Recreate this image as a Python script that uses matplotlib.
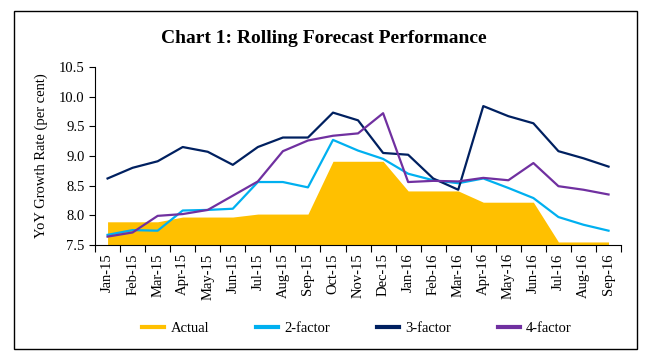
import matplotlib.pyplot as plt
from matplotlib.lines import Line2D
from matplotlib.patches import Rectangle

months = ["Jan-15", "Feb-15", "Mar-15", "Apr-15", "May-15", "Jun-15", "Jul-15",
          "Aug-15", "Sep-15", "Oct-15", "Nov-15", "Dec-15", "Jan-16", "Feb-16",
          "Mar-16", "Apr-16", "May-16", "Jun-16", "Jul-16", "Aug-16", "Sep-16"]

actual = [7.89, 7.89, 7.89, 7.97, 7.97, 7.97, 8.02, 8.02, 8.02, 8.91, 8.91, 8.91,
          8.41, 8.41, 8.41, 8.22, 8.22, 8.22, 7.55, 7.55, 7.55]
factor2 = [7.67, 7.75, 7.74, 8.08, 8.09, 8.11, 8.56, 8.56, 8.47, 9.27, 9.09, 8.95,
           8.70, 8.59, 8.54, 8.62, 8.46, 8.29, 7.97, 7.84, 7.74]
factor3 = [8.62, 8.80, 8.91, 9.15, 9.07, 8.85, 9.15, 9.31, 9.31, 9.73, 9.60, 9.05,
           9.02, 8.62, 8.43, 9.84, 9.67, 9.55, 9.08, 8.96, 8.82]
factor4 = [7.64, 7.71, 7.99, 8.02, 8.09, 8.33, 8.57, 9.08, 9.26, 9.34, 9.38, 9.72,
           8.56, 8.58, 8.57, 8.63, 8.59, 8.88, 8.49, 8.43, 8.35]

c_actual = "#FFC000"
c2 = "#00B0F0"
c3 = "#002060"
c4 = "#7030A0"

plt.rcParams["font.family"] = ["Liberation Serif", "DejaVu Serif"]

fig = plt.figure(figsize=(6.6, 3.56), dpi=100)
ax = fig.add_axes([0.144, 0.312, 0.797, 0.50])

x = list(range(len(months)))
ax.fill_between(x, 7.5, actual, color=c_actual, linewidth=0)
ax.plot(x, factor2, color=c2, lw=1.6)
ax.plot(x, factor3, color=c3, lw=1.6)
ax.plot(x, factor4, color=c4, lw=1.6)

ax.set_xlim(-0.5, len(months) - 0.5)
ax.set_ylim(7.5, 10.5)
ax.set_yticks([7.5, 8.0, 8.5, 9.0, 9.5, 10.0, 10.5])
ax.set_yticklabels(["%.1f" % v for v in [7.5, 8.0, 8.5, 9.0, 9.5, 10.0, 10.5]], fontsize=10.5)
ax.set_xticks(x)
ax.set_xticklabels(months, rotation=90, fontsize=10.5)
ax.set_xticks([i - 0.5 for i in range(len(months) + 1)], minor=True)
ax.tick_params(axis="x", which="major", length=0, pad=6)
ax.tick_params(axis="x", which="minor", length=5, width=0.8, direction="out")
ax.tick_params(axis="y", length=4, width=0.8, direction="out")
for s in ["top", "right"]:
    ax.spines[s].set_visible(False)
for s in ["left", "bottom"]:
    ax.spines[s].set_linewidth(0.8)

ax.set_ylabel("YoY Growth Rate (per cent)", fontsize=10.5, labelpad=8)

fig.text(0.49, 0.893, "Chart 1: Rolling Forecast Performance", ha="center", va="center",
         fontsize=14, fontweight="bold")

handles = [Line2D([0], [0], color=c, lw=3) for c in [c_actual, c2, c3, c4]]
fig.legend(handles, ["Actual", "2-factor", "3-factor", "4-factor"], loc="center",
           bbox_to_anchor=(0.541, 0.078), ncol=4, frameon=False, fontsize=10.5,
           handlelength=1.5, handletextpad=0.45, columnspacing=3.2)

fig.patches.append(Rectangle((0.021, 0.02), 0.944, 0.949, transform=fig.transFigure,
                             fill=False, edgecolor="black", lw=1.0))

fig.savefig("out.png", dpi=100)
